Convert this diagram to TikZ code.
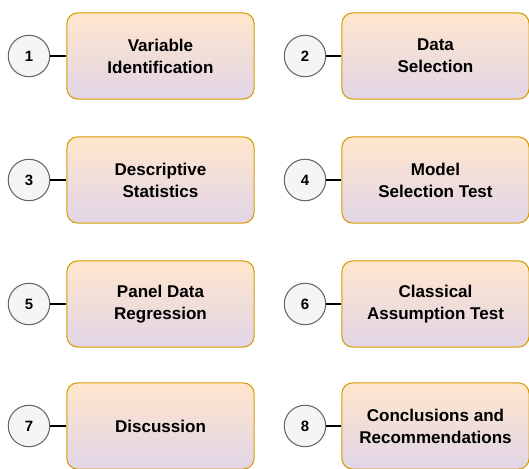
\documentclass[tikz,border=0pt]{standalone}
\usepackage{fontspec}
\setmainfont{Liberation Sans}
\usetikzlibrary{positioning}
\definecolor{boxline}{HTML}{D79B00}
\definecolor{boxtop}{HTML}{FFE6CC}
\definecolor{boxbot}{HTML}{E1D5E7}
\definecolor{numfill}{HTML}{F5F5F5}
\definecolor{numline}{HTML}{666666}
\tikzset{
  stepnum/.style={circle, draw=numline, fill=numfill, line width=0.6pt, minimum size=23.6pt, inner sep=0pt, font=\fontsize{8.5}{10}\selectfont\bfseries},
  stepbox/.style={rectangle, rounded corners=6pt, draw=boxline, line width=0.6pt, top color=boxtop, bottom color=boxbot, minimum width=106.5pt, minimum height=49pt, align=center, inner sep=2pt},
}

\begin{document}
\begin{tikzpicture}[x=0.02cm, y=-0.02cm, font=\fontsize{9.7}{12.5}\selectfont\bfseries]
  \useasboundingbox (0,0) rectangle (529,469);
  % left column
  \node[stepnum] (c1) at (29,56) {1};
  \node[stepbox] (s1) at (160.5,56) {Variable\\Identification};
  \node[stepnum] (c3) at (29,180) {3};
  \node[stepbox] (s3) at (160.5,180) {Descriptive\\Statistics};
  \node[stepnum] (c5) at (29,304) {5};
  \node[stepbox] (s5) at (160.5,304) {Panel Data\\Regression};
  \node[stepnum] (c7) at (29,426) {7};
  \node[stepbox] (s7) at (160.5,426) {Discussion};
  % right column
  \node[stepnum] (c2) at (305,56) {2};
  \node[stepbox] (s2) at (435.5,56) {Data\\Selection};
  \node[stepnum] (c4) at (305,180) {4};
  \node[stepbox] (s4) at (435.5,180) {Model\\Selection Test};
  \node[stepnum] (c6) at (305,304) {6};
  \node[stepbox] (s6) at (435.5,304) {Classical\\Assumption Test};
  \node[stepnum] (c8) at (305,426) {8};
  \node[stepbox] (s8) at (435.5,426) {Conclusions and\\Recommendations};
  \foreach \i in {1,...,8} {\draw[line width=0.6pt] (c\i) -- (s\i);}
\end{tikzpicture}
\end{document}
